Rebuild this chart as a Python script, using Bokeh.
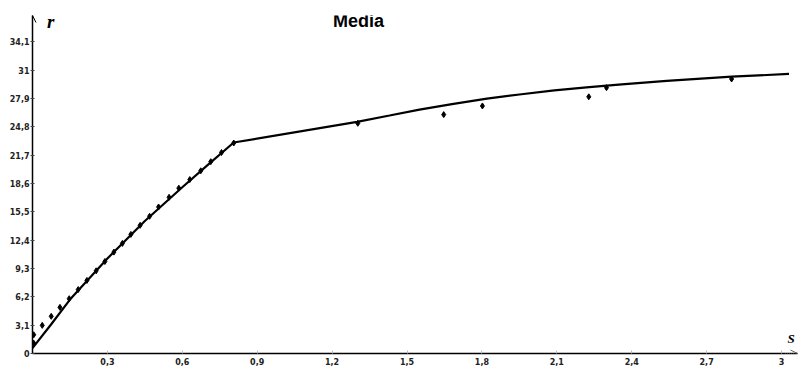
from bokeh.plotting import figure
from bokeh.models import Range1d, FixedTicker, Arrow, OpenHead, Label
from bokeh.embed import file_html
from bokeh.resources import INLINE

# measured points
s_points = [0.005, 0.005, 0.039, 0.075, 0.11, 0.147, 0.183, 0.218, 0.255, 0.29,
            0.326, 0.36, 0.394, 0.431, 0.469, 0.505, 0.547, 0.586, 0.63, 0.674,
            0.714, 0.757, 0.806, 1.303, 1.647, 1.802, 2.228, 2.299, 2.80]
r_points = [2.05, 1.13, 3.08, 4.07, 5.05, 6.0, 7.0, 8.0, 9.05, 10.07,
            11.1, 12.05, 13.04, 14.03, 15.02, 16.04, 17.1, 18.1, 19.04, 20.0,
            21.0, 22.0, 23.04, 25.2, 26.15, 27.1, 28.1, 29.1, 30.05]

# fitted curve
s_fit = [0.0, 0.075, 0.15, 0.3, 0.45, 0.6, 0.7, 0.806, 1.30, 1.43, 1.55, 1.68,
         1.82, 1.95, 2.09, 2.23, 2.36, 2.54, 2.80, 3.03]
r_fit = [0.6, 3.2, 5.9, 10.4, 14.5, 18.2, 20.6, 23.1, 25.35, 26.05, 26.7, 27.3,
         27.9, 28.35, 28.8, 29.15, 29.45, 29.85, 30.3, 30.6]

x_ticks = [0.3, 0.6, 0.9, 1.2, 1.5, 1.8, 2.1, 2.4, 2.7, 3.0]
x_tick_labels = ["0,3", "0,6", "0,9", "1,2", "1,5", "1,8", "2,1", "2,4", "2,7", "3"]
y_ticks = [0, 3.1, 6.2, 9.3, 12.4, 15.5, 18.6, 21.7, 24.8, 27.9, 31, 34.1]
y_tick_labels = ["0", "3,1", "6,2", "9,3", "12,4", "15,5", "18,6", "21,7",
                 "24,8", "27,9", "31", "34,1"]

title_text = "Media"
x_label = "S"
y_label = "r"

X_MAX = 3.064
Y_MAX = 37.0

p = figure(width=801, height=370, output_backend="svg", toolbar_location=None,
           x_range=Range1d(0, X_MAX), y_range=Range1d(0, Y_MAX),
           min_border_left=32, min_border_right=4, min_border_top=15,
           min_border_bottom=17)
p.outline_line_color = None
p.xgrid.visible = False
p.ygrid.visible = False
p.background_fill_color = "white"

p.xaxis.ticker = FixedTicker(ticks=x_ticks)
p.xaxis.major_label_overrides = dict(zip(x_ticks, x_tick_labels))
p.yaxis.ticker = FixedTicker(ticks=y_ticks)
p.yaxis.major_label_overrides = dict(zip(y_ticks, y_tick_labels))

for ax in (p.xaxis, p.yaxis):
    ax.axis_line_color = "black"
    ax.axis_line_width = 1.5
    ax.minor_tick_line_color = None
    ax.major_label_text_font = "DejaVu Sans"
    ax.major_label_text_font_style = "bold"
    ax.major_label_text_font_size = "8px"
    ax.major_label_text_color = "#222222"

p.xaxis.major_tick_in = 3
p.xaxis.major_tick_out = 0
p.xaxis.major_tick_line_color = "#bbbbbb"
p.xaxis.major_label_standoff = 4
p.yaxis.major_tick_in = 2
p.yaxis.major_tick_out = 2
p.yaxis.major_tick_line_color = "#444444"
p.yaxis.major_label_standoff = 1

p.line(s_fit, r_fit, line_color="black", line_width=2.2)
p.scatter(s_points, r_points, marker="diamond", size=6, color="black")

# arrow heads on axes
p.add_layout(Arrow(end=OpenHead(size=7, line_width=1, line_color="black"),
                   x_start=0, y_start=Y_MAX - 1, x_end=0, y_end=Y_MAX,
                   line_color="black", line_width=1))
p.add_layout(Arrow(end=OpenHead(size=7, line_width=1, line_color="#666666"),
                   x_start=X_MAX - 0.05, y_start=0, x_end=X_MAX, y_end=0,
                   line_color="#666666", line_width=1, line_dash="1 1"))

p.add_layout(Label(x=1.306, y=36.45, text=title_text, text_align="center",
                   text_baseline="alphabetic", text_font="Liberation Sans",
                   text_font_style="bold", text_font_size="18px",
                   text_color="black"))
p.add_layout(Label(x=0.058, y=36.3, text=y_label, text_align="left",
                   text_baseline="alphabetic", text_font="Liberation Serif",
                   text_font_style="bold italic", text_font_size="19px",
                   text_color="black"))
p.add_layout(Label(x=3.024, y=1.6, text=x_label, text_align="left",
                   text_baseline="alphabetic", text_font="Liberation Serif",
                   text_font_style="bold italic", text_font_size="13px",
                   text_color="black"))

open("out.html", "w").write(file_html(p, INLINE))
